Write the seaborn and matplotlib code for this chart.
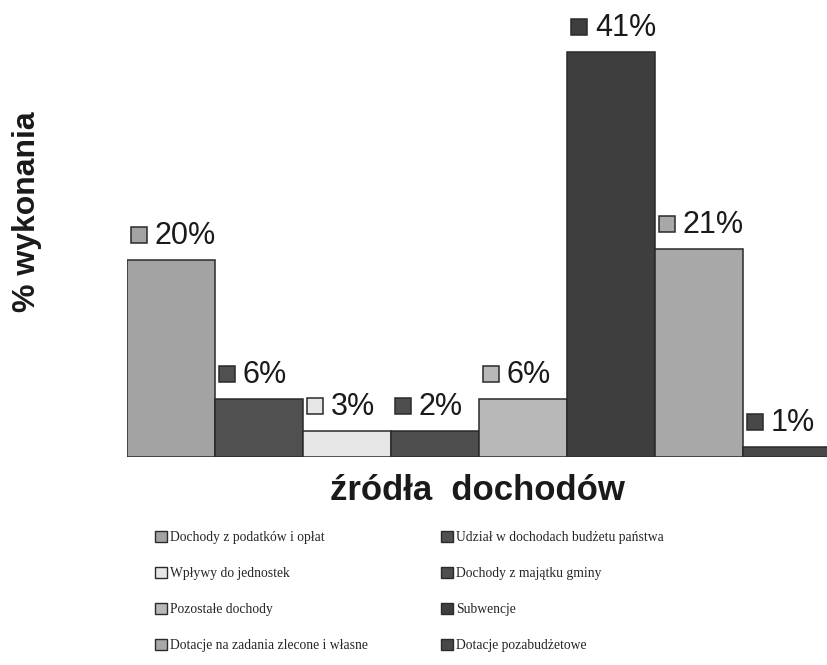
import seaborn as sns
import pandas as pd
import matplotlib.pyplot as plt
from matplotlib.patches import Patch
from matplotlib.transforms import offset_copy

zrodla = ["Dochody z podatków i opłat", "Udział w dochodach budżetu państwa",
          "Wpływy do jednostek", "Dochody z majątku gminy", "Pozostałe dochody",
          "Subwencje", "Dotacje na zadania zlecone i własne", "Dotacje pozabudżetowe"]
wykonanie = [20.0, 5.9, 2.6, 2.6, 5.9, 41.0, 21.1, 1.0]
etykiety = ["20%", "6%", "3%", "2%", "6%", "41%", "21%", "1%"]
kolory = ["#a3a3a3", "#505050", "#e6e6e6", "#4e4e4e", "#b8b8b8", "#3e3e3e", "#a8a8a8", "#484848"]

df = pd.DataFrame({"zrodlo": zrodla, "wartosc": wykonanie})

sns.set_style("white")
plt.rcParams['font.family'] = ['Liberation Sans', 'DejaVu Sans']

fig = plt.figure(figsize=(8.28, 6.65), dpi=100)
ax = fig.add_axes([127 / 828, 208 / 665, 1 - 127 / 828, 457 / 665])
sns.barplot(data=df, x="zrodlo", y="wartosc", hue="zrodlo", palette=kolory,
            width=1.0, saturation=1, edgecolor="#2a2a2a", linewidth=1.1,
            legend=False, ax=ax)
ax.set_xlim(-0.5, 7.47)
ax.set_ylim(0, 46.3)
ax.set_xticks([])
ax.set_yticks([])
ax.set_ylabel("")
ax.set_xlabel("źródła  dochodów", fontsize=25, fontweight="bold", labelpad=12, color="#1a1a1a")
sns.despine(ax=ax, left=True, bottom=True)

# etykiety z kwadracikiem nad slupkami
px = 0.72
sq_tr = offset_copy(ax.transData, fig=fig, x=-32 * px, y=25 * px, units="points")
bars = sorted(ax.patches, key=lambda p: p.get_x())
for p, t, c in zip(bars, etykiety, kolory):
    cx = p.get_x() + p.get_width() / 2
    top = p.get_height()
    ax.annotate(t, xy=(cx, top), xytext=(-16 * px, 24 * px), textcoords="offset points",
                ha="left", va="center", fontsize=22, color="#1a1a1a", annotation_clip=False)
    ax.plot([cx], [top], marker="s", ms=11, mfc=c, mec="#2a2a2a", mew=1.1,
            transform=sq_tr, clip_on=False)

fig.text(27 / 828, 1 - 212 / 665, "% wykonania", rotation=90, ha="center", va="center",
         fontsize=23, fontweight="bold", color="#1a1a1a")

kolejnosc = [0, 2, 4, 6, 1, 3, 5, 7]
handles = [Patch(facecolor=kolory[i], edgecolor="#2a2a2a") for i in kolejnosc]
labels = [zrodla[i] for i in kolejnosc]
fig.legend(handles, labels, loc="upper left", bbox_to_anchor=(155 / 828, 1 - 531 / 665),
           ncol=2, frameon=False, prop={"family": "Liberation Serif", "size": 9.8},
           handlelength=0.85, handleheight=0.85, handletextpad=0.25, labelspacing=1.68,
           columnspacing=5.4, borderpad=0, borderaxespad=0)

plt.savefig("out.png", dpi=100)
